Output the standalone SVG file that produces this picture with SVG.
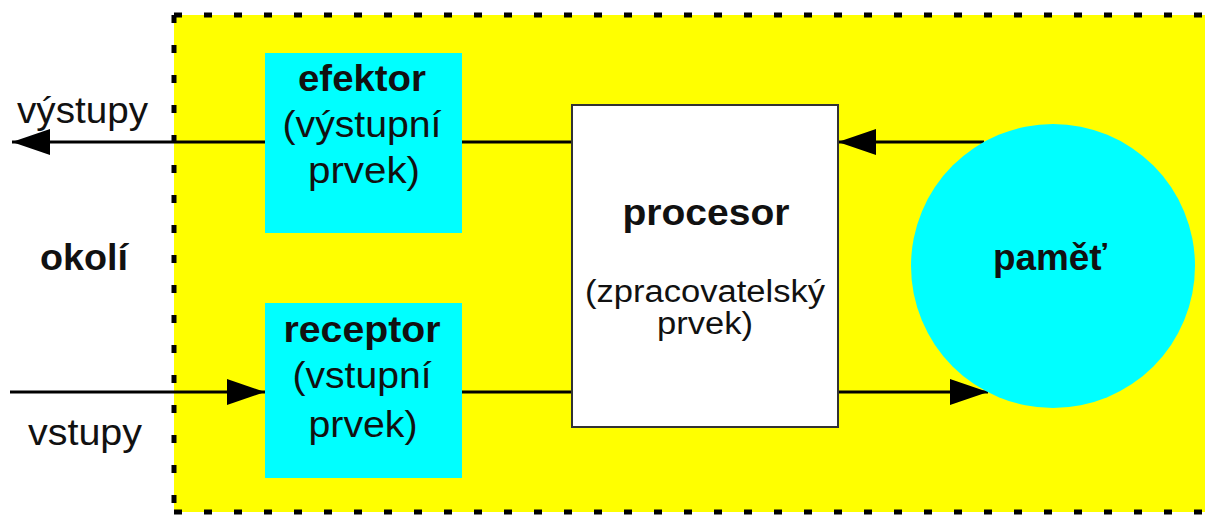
<svg xmlns="http://www.w3.org/2000/svg" width="1205" height="516" viewBox="0 0 1205 516">
<style>
text{font-family:"Liberation Sans",Arial,sans-serif;fill:#111;}
.b{font-weight:bold;font-size:36px;}
.r{font-size:36px;}
.s{font-size:31px;}
.m{text-anchor:middle;}
.conn{stroke:#000;stroke-width:3;fill:none;}
.box{fill:#00ffff;}
</style>
<defs>
<marker id="ah" markerUnits="userSpaceOnUse" markerWidth="40" markerHeight="28" refX="38" refY="13" orient="auto">
<path d="M0,0 L38,13 L0,26 Z" fill="#000"/>
</marker>
</defs>
<rect width="1205" height="516" fill="#fff"/>
<g id="system">
<rect x="174" y="15" width="1040" height="497" fill="#ffff00"/>
<path d="M174,15 H1205 M174,15 V512 M174,512 H1205" stroke="#000" stroke-width="5" fill="none" stroke-dasharray="8 22"/>
</g>
<g id="connectors">
<line class="conn" x1="984" y1="142" x2="838" y2="142" marker-end="url(#ah)"/>
<line class="conn" x1="572" y1="142" x2="462" y2="142"/>
<line class="conn" x1="265" y1="142" x2="12" y2="142" marker-end="url(#ah)"/>
<line class="conn" x1="10" y1="392" x2="265" y2="392" marker-end="url(#ah)"/>
<line class="conn" x1="462" y1="392" x2="572" y2="392"/>
<line class="conn" x1="838" y1="392" x2="988" y2="392" marker-end="url(#ah)"/>
</g>
<g id="efektor">
<rect class="box" x="265" y="53" width="197" height="180"/>
<text class="b m" x="362" y="91" textLength="128" lengthAdjust="spacingAndGlyphs">efektor</text>
<text class="r m" x="362" y="137" textLength="159" lengthAdjust="spacingAndGlyphs">(výstupní</text>
<text class="r m" x="364" y="183" textLength="112" lengthAdjust="spacingAndGlyphs">prvek)</text>
</g>
<g id="receptor">
<rect class="box" x="265" y="303" width="197" height="175"/>
<text class="b m" x="362" y="342" textLength="157" lengthAdjust="spacingAndGlyphs">receptor</text>
<text class="r m" x="362" y="388" textLength="139" lengthAdjust="spacingAndGlyphs">(vstupní</text>
<text class="r m" x="363" y="437" textLength="109" lengthAdjust="spacingAndGlyphs">prvek)</text>
</g>
<g id="procesor">
<rect x="572" y="105" width="266" height="322" fill="#fff" stroke="#333" stroke-width="2"/>
<text class="b m" x="706" y="225" textLength="167" lengthAdjust="spacingAndGlyphs">procesor</text>
<text class="s m" x="705" y="302" textLength="240" lengthAdjust="spacingAndGlyphs">(zpracovatelský</text>
<text class="s m" x="705" y="334" textLength="96" lengthAdjust="spacingAndGlyphs">prvek)</text>
</g>
<g id="pamet">
<circle cx="1053" cy="266" r="142" fill="#00ffff"/>
<text class="b m" x="1050" y="270" textLength="114" lengthAdjust="spacingAndGlyphs">paměť</text>
</g>
<g id="labels">
<text class="r" x="17" y="123" textLength="131" lengthAdjust="spacingAndGlyphs">výstupy</text>
<text class="b" x="40" y="270" textLength="88" lengthAdjust="spacingAndGlyphs">okolí</text>
<text class="r" x="28" y="445" textLength="114" lengthAdjust="spacingAndGlyphs">vstupy</text>
</g>
</svg>
